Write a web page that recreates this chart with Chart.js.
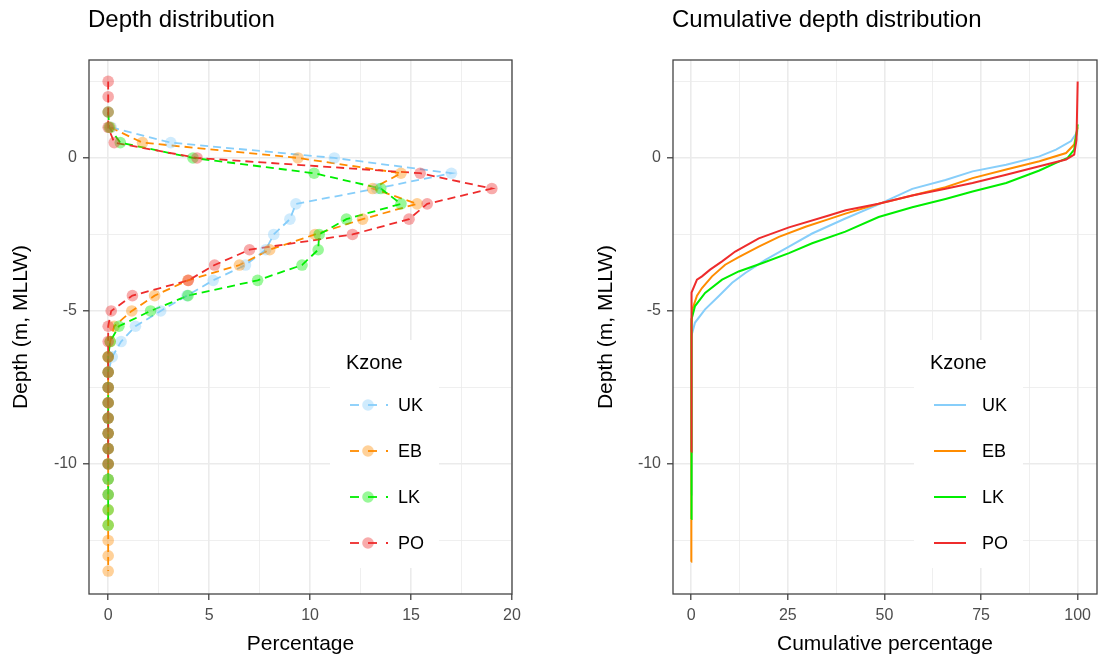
<!DOCTYPE html>
<html>
<head>
<meta charset="utf-8">
<title>Depth distribution</title>
<script src="https://cdn.jsdelivr.net/npm/chart.js@4.4.1/dist/chart.umd.min.js"></script>
<style>
  html, body { margin: 0; padding: 0; background: #fff; }
  #wrap { position: relative; width: 1098px; height: 659px; }
  #depthChart { position: absolute; left: 0; top: 0; }
  #cumChart { position: absolute; left: 560px; top: 0; }
</style>
</head>
<body>
<div id="wrap">
  <canvas id="depthChart" width="560" height="659"></canvas>
  <canvas id="cumChart" width="538" height="659"></canvas>
</div>
<script>
// Zones and colours (legend order)
const zones = ['UK', 'EB', 'LK', 'PO'];
const zoneColors = ['#87cefa', '#ff8c00', '#00ee00', '#ee2c2c'];
const zoneFills = ['rgba(135,206,250,0.4)', 'rgba(255,140,0,0.4)', 'rgba(0,238,0,0.4)', 'rgba(238,44,44,0.4)'];

// Depth bins (m, MLLW), top to bottom
const depths = [2.5, 2, 1.5, 1, 0.5, 0, -0.5, -1, -1.5, -2, -2.5, -3, -3.5, -4, -4.5, -5,
  -5.5, -6, -6.5, -7, -7.5, -8, -8.5, -9, -9.5, -10, -10.5, -11, -11.5, -12, -12.5, -13, -13.5];

// Percentage of area per depth bin (null = no point)
const pctUK = [null, null, null, 0.15, 3.1, 11.2, 17.0, 13.3, 9.3, 9.0, 8.2, 7.8, 6.8, 5.2, 3.9, 2.6,
  1.35, 0.64, 0.2, 0, 0, 0, 0, 0, 0, 0, 0, 0, null, null, null, null, null];
const pctEB = [null, null, null, 0.1, 1.7, 9.4, 14.5, 13.1, 15.3, 12.6, 10.25, 8.0, 6.5, 3.95, 2.3, 1.17,
  0.3, 0.1, 0, 0, 0, 0, 0, 0, 0, 0, 0, 0, 0, 0, 0, 0, 0];
const pctLK = [null, null, 0, 0.05, 0.6, 4.2, 10.2, 13.5, 14.5, 11.8, 10.45, 10.4, 9.6, 7.4, 3.95, 2.1,
  0.53, 0.1, 0, 0, 0, 0, 0, 0, 0, 0, 0, 0, 0, 0, null, null, null];
const pctPO = [0, 0, 0, 0, 0.3, 4.4, 15.45, 19.0, 15.8, 14.9, 12.1, 7.0, 5.27, 3.97, 1.2, 0.15,
  0, 0, 0, 0, 0, 0, 0, 0, 0, 0, null, null, null, null, null, null, null];

// Cumulative depth distribution (bottom to top)
const cumDepthUK = [-11.0, -6.5, -5.8, -5.38, -4.95, -4.52, -4.08, -3.76, -3.33, -2.9, -2.47, -1.98, -1.52, -1.01, -0.72, -0.44, -0.22, 0.05, 0.27, 0.55, 0.77, 0.9];
const cumPctUK   = [0, 0, 0.2, 1.0, 3.6, 7.1, 10.6, 14.0, 19.2, 25.3, 31.3, 39.9, 48.5, 57.2, 65.8, 72.8, 81.5, 90.1, 94.4, 98.3, 99.5, 100];
const cumDepthEB = [-13.2, -6.0, -5.5, -4.95, -4.5, -4.25, -3.87, -3.49, -3.24, -2.9, -2.58, -2.25, -2.0, -1.82, -1.5, -1.23, -0.96, -0.66, -0.38, -0.11, 0.16, 0.44, 0.8, 1.0];
const cumPctEB   = [0, 0, 0.1, 0.3, 1.5, 2.8, 5.4, 8.8, 12.3, 17.5, 22.7, 29.6, 35.6, 39.9, 48.5, 57.2, 65.8, 72.8, 81.5, 90.1, 97.0, 99.1, 99.7, 100];
const cumDepthLK = [-11.8, -6.0, -5.27, -4.84, -4.41, -3.98, -3.71, -3.44, -3.11, -2.79, -2.41, -1.93, -1.61, -1.34, -1.1, -0.82, -0.41, -0.16, 0, 0.27, 0.8, 1.1];
const cumPctLK   = [0, 0, 0.2, 1.0, 3.6, 8.0, 12.3, 18.3, 25.3, 31.3, 39.9, 48.5, 57.2, 65.8, 72.8, 81.5, 90.1, 94.4, 97.4, 99.1, 99.7, 100];
const cumDepthPO = [-9.6, -5.5, -4.8, -4.4, -3.98, -3.87, -3.65, -3.38, -3.06, -2.63, -2.27, -1.88, -1.71, -1.5, -1.23, -1.01, -0.82, -0.55, -0.27, -0.05, 0.11, 0.6, 2.5];
const cumPctPO   = [0, 0, 0.1, 0.2, 1.5, 2.8, 4.9, 8.0, 11.4, 17.5, 25.3, 35.6, 40.0, 48.5, 57.2, 65.8, 72.8, 81.5, 90.1, 97.0, 99.1, 99.7, 100];

// Tick positions (majors are labelled, minors only get a thin grid line)
const depthMajor = [-10, -5, 0];
const depthMinor = [-12.5, -7.5, -2.5, 2.5];
const pctMajor = [0, 5, 10, 15, 20];
const pctMinor = [2.5, 7.5, 12.5, 17.5];
const cumMajor = [0, 25, 50, 75, 100];
const cumMinor = [12.5, 37.5, 62.5, 87.5];

const legendTitle = 'Kzone';

Chart.defaults.font.family = '"Liberation Sans", Arial, sans-serif';
Chart.defaults.color = '#4d4d4d';

const FONT = '"Liberation Sans", Arial, sans-serif';

// panel title above the plot area
const panelTitle = {
    id: 'panelTitle',
    afterDraw(chart, args, opts) {
        const ctx = chart.ctx;
        ctx.save();
        ctx.fillStyle = '#000';
        ctx.font = '24px ' + FONT;
        ctx.textAlign = 'left';
        ctx.textBaseline = 'alphabetic';
        ctx.fillText(opts.text, chart.chartArea.left - 1, 27);
        ctx.restore();
    }
};

// panel border round the plot area
const panelBorder = {
    id: 'panelBorder',
    afterDraw(chart) {
        const {ctx, chartArea: a} = chart;
        ctx.save();
        ctx.strokeStyle = '#444';
        ctx.lineWidth = 1.3;
        ctx.strokeRect(a.left, a.top, a.right - a.left, a.bottom - a.top);
        ctx.restore();
    }
};

// ggplot-like legend inside the panel
const kzoneLegend = {
    id: 'kzoneLegend',
    afterDraw(chart, args, opts) {
        const {ctx, chartArea: a} = chart;
        ctx.save();
        ctx.fillStyle = '#fff';
        ctx.fillRect(a.left + 241, a.top + 280, 109, 228);
        ctx.fillStyle = '#000';
        ctx.font = '20px ' + FONT;
        ctx.textAlign = 'left';
        ctx.textBaseline = 'middle';
        ctx.fillText(legendTitle, a.left + 257, a.top + 303);
        zones.forEach((z, i) => {
            const y = a.top + 345 + 46 * i;
            ctx.strokeStyle = zoneColors[i];
            ctx.lineWidth = opts.dashed ? 1.8 : 2;
            ctx.setLineDash(opts.dashed ? [9, 9] : []);
            ctx.beginPath();
            ctx.moveTo(a.left + 261, y);
            ctx.lineTo(a.left + (opts.dashed ? 299 : 293), y);
            ctx.stroke();
            ctx.setLineDash([]);
            if (opts.points) {
                ctx.fillStyle = zoneFills[i];
                ctx.beginPath();
                ctx.arc(a.left + 279, y, 5.8, 0, Math.PI * 2);
                ctx.fill();
            }
            ctx.fillStyle = '#000';
            ctx.font = '18px ' + FONT;
            ctx.fillText(z, a.left + 309, y + 1);
        });
        ctx.restore();
    }
};

function gridOpts(major) {
    const isMajor = ctx => ctx.tick && major.includes(ctx.tick.value);
    return {
        color: '#ebebeb',
        lineWidth: ctx => isMajor(ctx) ? 1.6 : 0.8,
        tickColor: ctx => isMajor(ctx) ? '#333' : 'rgba(0,0,0,0)',
        tickLength: 6,
        tickWidth: 1.2
    };
}

function axis(major, minor, min, max, title, titlePad, size, horizontal) {
    return {
        type: 'linear',
        min: min,
        max: max,
        border: { display: false },
        grid: gridOpts(major),
        afterBuildTicks: scale => {
            scale.ticks = major.concat(minor).sort((p, q) => p - q).map(v => ({ value: v }));
        },
        afterFit: scale => {
            if (horizontal) scale.height = size; else scale.width = size;
        },
        ticks: {
            autoSkip: false,
            maxRotation: 0,
            padding: 6,
            font: { size: 16 },
            color: '#4d4d4d',
            callback: v => major.includes(v) ? String(v) : ''
        },
        title: {
            display: true,
            text: title,
            color: '#000',
            font: { size: 21 },
            padding: titlePad
        }
    };
}

// Left panel: depth distribution (dashed lines, translucent points)
const lineSets = [], pointSets = [];
[pctUK, pctEB, pctLK, pctPO].forEach((vals, i) => {
    const pts = [];
    depths.forEach((d, j) => { if (vals[j] !== null) pts.push({ x: vals[j], y: d }); });
    lineSets.push({
        label: zones[i],
        data: pts,
        borderColor: zoneColors[i],
        borderWidth: 1.8,
        borderDash: [8, 5],
        pointRadius: 0,
        fill: false,
        tension: 0,
        order: 7 - i
    });
    pointSets.push({
        label: zones[i],
        data: pts,
        showLine: false,
        pointRadius: 5.8,
        pointBackgroundColor: zoneFills[i],
        pointBorderWidth: 0,
        order: 3 - i
    });
});

const depthCtx = document.getElementById('depthChart').getContext('2d');
const depthChart = new Chart(depthCtx, {
    type: 'line',
    data: { datasets: lineSets.concat(pointSets) },
    options: {
        responsive: false,
        animation: false,
        events: [],
        layout: { padding: { top: 60, right: 48, bottom: 0, left: 0 } },
        scales: {
            x: axis(pctMajor, pctMinor, -0.95, 20, 'Percentage', { bottom: 2 }, 65, true),
            y: axis(depthMajor, depthMinor, -14.25, 3.2, 'Depth (m, MLLW)', { top: 9 }, 89, false)
        },
        plugins: {
            legend: { display: false },
            tooltip: { enabled: false },
            panelTitle: { text: 'Depth distribution' },
            kzoneLegend: { dashed: true, points: true }
        }
    },
    plugins: [panelTitle, kzoneLegend, panelBorder]
});

// Right panel: cumulative depth distribution (solid lines)
const cumSets = [[cumPctUK, cumDepthUK], [cumPctEB, cumDepthEB], [cumPctLK, cumDepthLK], [cumPctPO, cumDepthPO]]
    .map(([pct, dep], i) => ({
        label: zones[i],
        data: pct.map((p, j) => ({ x: p, y: dep[j] })),
        borderColor: zoneColors[i],
        borderWidth: 2,
        pointRadius: 0,
        fill: false,
        tension: 0,
        order: 3 - i
    }));

const cumCtx = document.getElementById('cumChart').getContext('2d');
const cumChart = new Chart(cumCtx, {
    type: 'line',
    data: { datasets: cumSets },
    options: {
        responsive: false,
        animation: false,
        events: [],
        layout: { padding: { top: 60, right: 1, bottom: 0, left: 0 } },
        scales: {
            x: axis(cumMajor, cumMinor, -4.7, 105, 'Cumulative percentage', { bottom: 2 }, 65, true),
            y: axis(depthMajor, depthMinor, -14.25, 3.2, 'Depth (m, MLLW)', { top: 34 }, 113, false)
        },
        plugins: {
            legend: { display: false },
            tooltip: { enabled: false },
            panelTitle: { text: 'Cumulative depth distribution' },
            kzoneLegend: { dashed: false, points: false }
        }
    },
    plugins: [panelTitle, kzoneLegend, panelBorder]
});
</script>
</body>
</html>
